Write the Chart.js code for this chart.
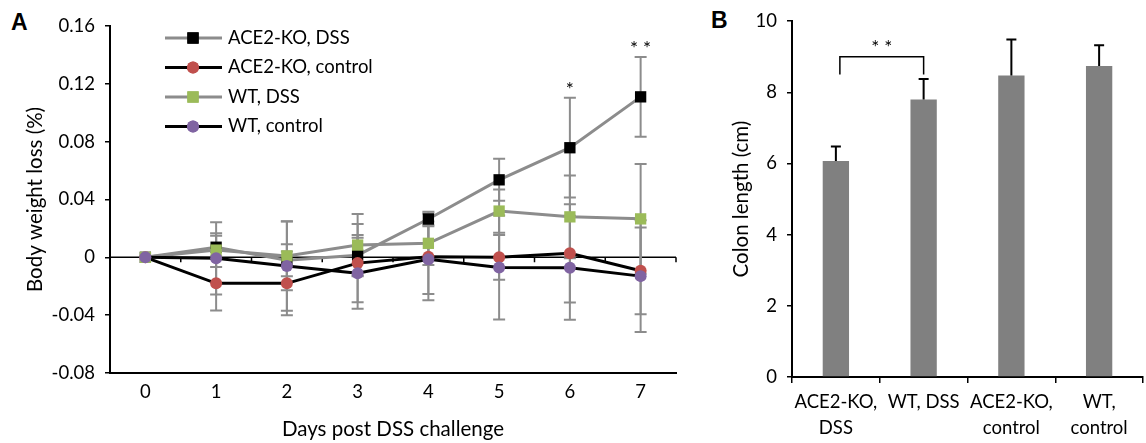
<!DOCTYPE html>
<html>
<head>
<meta charset="utf-8">
<script src="https://cdn.jsdelivr.net/npm/chart.js@4.4.1/dist/chart.umd.min.js"></script>
<style>
body { margin: 0; background: #fff; width: 1146px; height: 443px; overflow: hidden; position: relative; }
#ca { position: absolute; left: 0; top: 0; }
#cb { position: absolute; left: 690px; top: 0; }
.panel { position: absolute; font: bold 23px 'Liberation Sans', Arial, sans-serif; color: #000; }
</style>
</head>
<body>
<div class="panel" style="left:11px;top:9px">A</div>
<div class="panel" style="left:711px;top:7px">B</div>
<canvas id="ca" width="690" height="443"></canvas>
<canvas id="cb" width="456" height="443"></canvas>
<script>
// panel A - body weight loss
const days = ['0', '1', '2', '3', '4', '5', '6', '7'];
const yTicksA = ['-0.08', '-0.04', '0', '0.04', '0.08', '0.12', '0.16'];

const koDss = [0, 0.007, -0.002, 0.0015, 0.0265, 0.0536, 0.0758, 0.111];
const koDssErr = [0, 0.008, 0.011, 0.014, 0.005, 0.0145, 0.0345, 0.0276];
const koCtrl = [0, -0.018, -0.018, -0.004, 0.0004, 0, 0.0028, -0.0093];
const koCtrlErr = [0, 0.0187, 0.022, 0.027, 0.03, 0.0155, 0.034, 0.030];
const wtDss = [0, 0.005, 0.001, 0.0085, 0.0097, 0.032, 0.028, 0.0266];
const wtDssErr = [0, 0.0116, 0.0237, 0.0215, 0.015, 0.015, 0.0286, 0.038];
const wtCtrl = [0, -0.0007, -0.006, -0.011, -0.0014, -0.007, -0.0072, -0.013];
const wtCtrlErr = [0, 0.025, 0.031, 0.0245, 0.024, 0.036, 0.036, 0.0386];
const sigA = ['', '', '', '', '', '', '*', '**'];

// panel B - colon length
const groupsB = [['ACE2-KO,', 'DSS'], 'WT, DSS', ['ACE2-KO,', 'control'], ['WT,', 'control']];
const colonLen = [6.07, 7.80, 8.47, 8.74];
const colonErr = [0.41, 0.57, 1.01, 0.58];
const yTicksB = ['0', '2', '4', '6', '8', '10'];

const FONT = 'Lato';
const TICK = 18.5;   // tick + legend text
const TITLE = 20.5;  // axis titles
Chart.defaults.font.family = FONT;
Chart.defaults.font.size = TICK;
Chart.defaults.color = '#000';

const GRAY = '#8c8c8c';

const errorBarsA = {
    id: 'errorBarsA',
    beforeDatasetsDraw(chart) {
        const ctx = chart.ctx;
        const x = chart.scales.x, y = chart.scales.y;
        const area = chart.chartArea;
        // zero line with category ticks
        const y0 = y.getPixelForValue(0);
        ctx.save();
        ctx.strokeStyle = '#000';
        ctx.lineWidth = 1.5;
        ctx.beginPath();
        ctx.moveTo(area.left, y0);
        ctx.lineTo(area.right, y0);
        for (let i = 1; i <= days.length; i++) {
            const px = i < days.length ? (x.getPixelForValue(i - 1) + x.getPixelForValue(i)) / 2 : area.right;
            ctx.moveTo(px, y0);
            ctx.lineTo(px, y0 + 5);
        }
        ctx.stroke();

        ctx.strokeStyle = GRAY;
        ctx.lineWidth = 2;
        chart.data.datasets.forEach(ds => {
            ds.err.forEach((e, i) => {
                if (!e) return;
                const px = x.getPixelForValue(i);
                const top = y.getPixelForValue(ds.data[i] + e);
                const bot = y.getPixelForValue(ds.data[i] - e);
                ctx.beginPath();
                ctx.moveTo(px, top); ctx.lineTo(px, bot);
                ctx.moveTo(px - 6, top); ctx.lineTo(px + 6, top);
                ctx.moveTo(px - 6, bot); ctx.lineTo(px + 6, bot);
                ctx.stroke();
            });
        });
        ctx.restore();
    },
    afterDatasetsDraw(chart) {
        const ctx = chart.ctx;
        const x = chart.scales.x, y = chart.scales.y;
        const area = chart.chartArea;
        ctx.save();
        // significance stars above the highest cap
        ctx.font = '19px ' + FONT;
        ctx.fillStyle = '#000';
        ctx.textAlign = 'center';
        ctx.textBaseline = 'middle';
        sigA.forEach((s, i) => {
            if (!s) return;
            const top = y.getPixelForValue(koDss[i] + koDssErr[i]);
            ctx.fillText(s.split('').join(' '), x.getPixelForValue(i), top - 8);
        });

        // legend
        ctx.font = TICK + 'px ' + FONT;
        const x0 = area.left + 55, y0 = area.top + 12;
        chart.data.datasets.forEach((ds, k) => {
            const yy = y0 + k * 29.5;
            ctx.strokeStyle = ds.borderColor;
            ctx.lineWidth = 3;
            ctx.beginPath();
            ctx.moveTo(x0, yy); ctx.lineTo(x0 + 57, yy);
            ctx.stroke();
            ctx.fillStyle = ds.pointBackgroundColor;
            Chart.helpers.drawPoint(ctx, { pointStyle: ds.pointStyle, radius: ds.pointRadius, rotation: 0, borderWidth: 0 }, x0 + 28, yy);
            ctx.fill();
            ctx.fillStyle = '#000';
            ctx.textAlign = 'left';
            ctx.fillText(ds.label, x0 + 63, yy);
        });
        ctx.restore();
    }
};

function series(label, data, err, line, marker, style, order) {
    return {
        label: label,
        data: data,
        err: err,
        borderColor: line,
        borderWidth: 3,
        pointBackgroundColor: marker,
        pointBorderColor: marker,
        pointBorderWidth: 0,
        pointStyle: style,
        pointRadius: style === 'rect' ? 8 : 6,
        tension: 0,
        order: order
    };
}

new Chart(document.getElementById('ca'), {
    type: 'line',
    data: {
        labels: days,
        datasets: [
            series('ACE2-KO, DSS', koDss, koDssErr, GRAY, '#000000', 'rect', 4),
            series('ACE2-KO, control', koCtrl, koCtrlErr, '#000000', '#c0504d', 'circle', 3),
            series('WT, DSS', wtDss, wtDssErr, GRAY, '#9bbb59', 'rect', 2),
            series('WT, control', wtCtrl, wtCtrlErr, '#000000', '#8064a2', 'circle', 1)
        ]
    },
    options: {
        responsive: false,
        animation: false,
        devicePixelRatio: 1,
        layout: { padding: { top: 26, right: 14, bottom: 0, left: 0 } },
        plugins: { legend: { display: false }, tooltip: { enabled: false } },
        scales: {
            x: {
                offset: true,
                grid: { display: true, drawOnChartArea: false, drawTicks: false },
                border: { color: '#000', width: 2 },
                ticks: { padding: 8 },
                title: { display: true, text: 'Days post DSS challenge', font: { size: TITLE }, padding: { top: 0, bottom: 1 } },
                afterFit: s => { s.height = 70; }
            },
            y: {
                min: -0.08,
                max: 0.16,
                ticks: { stepSize: 0.04, padding: 10, callback: (v, i) => yTicksA[i] },
                grid: { drawOnChartArea: false, drawTicks: true, tickLength: 5, color: '#000', lineWidth: 1.5 },
                border: { color: '#000', width: 2 },
                title: { display: true, text: 'Body weight loss (%)', font: { size: TITLE }, padding: { top: 23 } },
                afterFit: s => { s.width = 110; }
            }
        }
    },
    plugins: [errorBarsA]
});

const errorBarsB = {
    id: 'errorBarsB',
    afterDatasetsDraw(chart) {
        const ctx = chart.ctx;
        const x = chart.scales.x, y = chart.scales.y;
        ctx.save();
        ctx.strokeStyle = '#000';
        ctx.lineWidth = 2;
        colonLen.forEach((v, i) => {
            const px = x.getPixelForValue(i);
            const top = y.getPixelForValue(v + colonErr[i]);
            ctx.beginPath();
            ctx.moveTo(px, y.getPixelForValue(v)); ctx.lineTo(px, top);
            ctx.moveTo(px - 5, top); ctx.lineTo(px + 5, top);
            ctx.stroke();
        });
        // bracket between first two groups
        const xa = x.getPixelForValue(0) + 4, xb = x.getPixelForValue(1);
        const lo = y.getPixelForValue(8.5), hi = y.getPixelForValue(9.0);
        ctx.lineWidth = 1.5;
        ctx.beginPath();
        ctx.moveTo(xa, lo); ctx.lineTo(xa, hi); ctx.lineTo(xb, hi); ctx.lineTo(xb, lo);
        ctx.stroke();
        ctx.fillStyle = '#000';
        ctx.font = '19px ' + FONT;
        ctx.textAlign = 'center';
        ctx.textBaseline = 'middle';
        ctx.fillText('* *', (xa + xb) / 2, hi - 9);
        ctx.restore();
    }
};

new Chart(document.getElementById('cb'), {
    type: 'bar',
    data: {
        labels: groupsB,
        datasets: [{
            data: colonLen,
            backgroundColor: '#808080',
            barPercentage: 0.3,
            categoryPercentage: 1
        }]
    },
    options: {
        responsive: false,
        animation: false,
        devicePixelRatio: 1,
        layout: { padding: { top: 21, right: 3, bottom: 0, left: 0 } },
        plugins: { legend: { display: false }, tooltip: { enabled: false } },
        scales: {
            x: {
                grid: { display: true, offset: true, drawOnChartArea: false, drawTicks: true, tickLength: 6, color: '#000', lineWidth: 1.5 },
                border: { color: '#000', width: 2 },
                ticks: { padding: 6, maxRotation: 0, minRotation: 0, autoSkip: false, font: { lineHeight: 1.4 } },
                afterFit: s => { s.height = 66; }
            },
            y: {
                min: 0,
                max: 10,
                ticks: { stepSize: 2, padding: 10, callback: (v, i) => yTicksB[i] },
                grid: { drawOnChartArea: false, drawTicks: true, tickLength: 5, color: '#000', lineWidth: 1.5 },
                border: { color: '#000', width: 2 },
                title: { display: true, text: 'Colon length (cm)', font: { size: TITLE }, padding: { top: 39 } },
                afterFit: s => { s.width = 102; }
            }
        }
    },
    plugins: [errorBarsB]
});
</script>
</body>
</html>
